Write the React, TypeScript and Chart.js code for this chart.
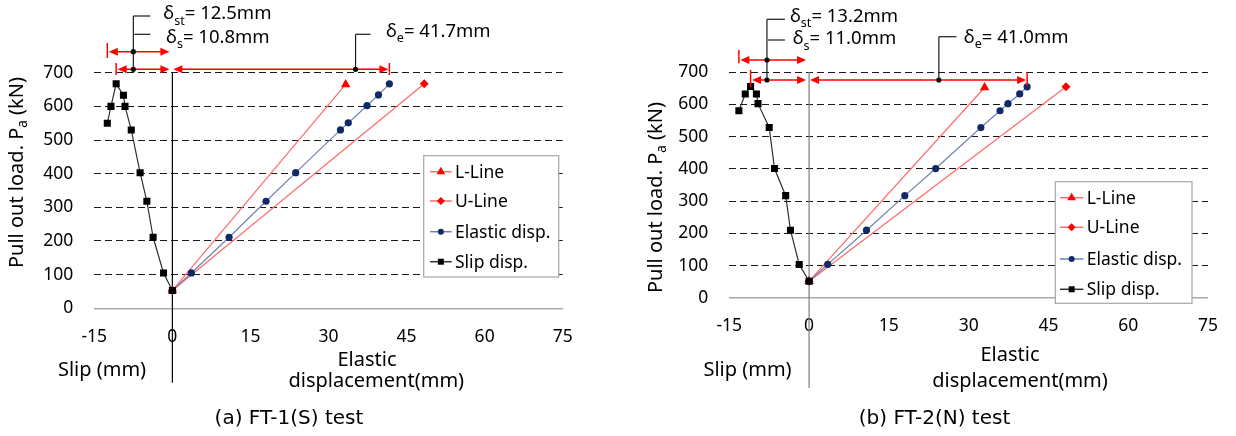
import React, { useEffect, useRef } from 'react';
import { Chart, registerables } from 'chart.js';

Chart.register(...registerables);

// ---------------- DATA ----------------
const xMin = -15;
const xMax = 75;
const xStep = 15;
const yMin = 0;
const yMax = 700;
const yStep = 100;

const seriesNames = ['L-Line', 'U-Line', 'Elastic disp.', 'Slip disp.'];
const captions = ['(a) FT-1(S) test', '(b) FT-2(N) test'];
const slipAxisLabel = 'Slip (mm)';
const elasticAxisLabel = ['Elastic', 'displacement(mm)'];

// FT-1(S)
const ft1SlipX = [0, -1.7, -3.7, -4.9, -6.2, -7.9, -9.1, -9.4, -10.8, -11.8, -12.5];
const ft1SlipLoad = [53, 105, 211, 318, 403, 530, 600, 633, 667, 600, 550];
const ft1ElasticX = [0, 3.65, 10.9, 18.0, 23.7, 32.3, 33.8, 37.4, 39.6, 41.7];
const ft1ElasticLoad = [53, 105, 211, 318, 403, 530, 551, 602, 634, 667];
const ft1LLineX = [0, 33.3];
const ft1LLineLoad = [53, 665];
const ft1ULineX = [0, 48.4];
const ft1ULineLoad = [53, 667];
const ft1Deltas = [12.5, 10.8, 41.7]; // δst, δs, δe

// FT-2(N)
const ft2SlipX = [0, -1.85, -3.5, -4.4, -6.5, -7.5, -9.6, -9.9, -11.0, -12.0, -13.2];
const ft2SlipLoad = [52, 104, 210, 317, 401, 528, 602, 632, 655, 632, 580];
const ft2ElasticX = [0, 3.5, 10.8, 18.0, 23.8, 32.3, 35.9, 37.4, 39.6, 41.0];
const ft2ElasticLoad = [52, 104, 210, 317, 401, 528, 580, 602, 632, 654];
const ft2LLineX = [0, 33.0];
const ft2LLineLoad = [52, 652];
const ft2ULineX = [0, 48.3];
const ft2ULineLoad = [52, 654];
const ft2Deltas = [13.2, 11.0, 41.0];

// ---------------- STYLE / LAYOUT ----------------
const FONT = '"Noto Sans", "Open Sans", sans-serif';
const RED = '#ff0000';
const RED_LINE = '#ff6a6a';
const NAVY = '#0f2a66';
const NAVY_LINE = '#6f82b0';
const BLACK = '#000000';

const seriesStyle = [
  { line: RED_LINE, point: RED, pointStyle: 'triangle', r: 5.5, legR: 5 },
  { line: RED_LINE, point: RED, pointStyle: 'rectRot', r: 4.5, legR: 4 },
  { line: NAVY_LINE, point: NAVY, pointStyle: 'circle', r: 3.6, legR: 3 },
  { line: '#303030', point: BLACK, pointStyle: 'rect', r: 5, legR: 4 },
];

const layouts = [
  {
    left: 0,
    padTop: 72.7,
    padRight: 55.3,
    yWidth: 94.3,
    xHeight: 127.7,
    yTickPad: 21,
    xTickPad: 18,
    yTitle: [17.5, 172.5],
    slipLabel: [102, 370],
    elasticLabel: [[367, 360.7], [376.3, 381.7]],
    caption: [289, 419],
    dividerBottom: 382.7,
    dividerColor: '#000000',
    legend: { x: 423.7, y: 155.7, w: 135, h: 121.3, rows: [171.7, 201, 231.7, 261.7], sx0: 430, sx1: 451.7, tx: 455 },
    arrows: [
      { y: 51.7, barTop: 43, barBot: 58 },
      { y: 69.3, barTop: 63, barBot: 75 },
      { y: 69.3, barTop: 63, barBot: 75 },
    ],
    leaderFrac: 0.6,
    leader: { top: 16, h1: 16, h2: 34.3, hLen: 17, t1: [30, 19.3], t2: [32.7, 42.7] },
    leaderEValue: 35.2,
    leaderE: { y: 34.3, hLen: 15, t: [30.4, 36.7] },
  },
  {
    left: 618,
    padTop: 72,
    padRight: 21,
    yWidth: 111.3,
    xHeight: 138,
    yTickPad: 21,
    xTickPad: 18,
    yTitle: [37.8, 197.5],
    slipLabel: [129.5, 370],
    elasticLabel: [[392, 355], [402, 381.7]],
    caption: [316.5, 419],
    dividerBottom: 388,
    dividerColor: '#7f7f7f',
    legend: { x: 437.3, y: 181.7, w: 136.7, h: 121.6, rows: [197.7, 227.3, 259, 289.3], sx0: 442, sx1: 465.3, tx: 468.7 },
    arrows: [
      { y: 60, barTop: 50, barBot: 63.3 },
      { y: 80, barTop: 70, barBot: 87 },
      { y: 80, barTop: 72, barBot: 86 },
    ],
    leaderFrac: 0.6,
    leader: { top: 19.3, h1: 19.3, h2: 40, hLen: 18, t1: [23, 21.7], t2: [25.7, 44.3] },
    leaderEValue: 24.4,
    leaderE: { y: 36.7, hLen: 17.6, t: [25, 42.7] },
  },
];

const panels = [
  {
    slipX: ft1SlipX, slipY: ft1SlipLoad, elX: ft1ElasticX, elY: ft1ElasticLoad,
    lX: ft1LLineX, lY: ft1LLineLoad, uX: ft1ULineX, uY: ft1ULineLoad, deltas: ft1Deltas, caption: captions[0],
  },
  {
    slipX: ft2SlipX, slipY: ft2SlipLoad, elX: ft2ElasticX, elY: ft2ElasticLoad,
    lX: ft2LLineX, lY: ft2LLineLoad, uX: ft2ULineX, uY: ft2ULineLoad, deltas: ft2Deltas, caption: captions[1],
  },
];

const pts = (xs: number[], ys: number[]) => xs.map((x, i) => ({ x, y: ys[i] }));

function drawMarker(ctx: CanvasRenderingContext2D, style: string, x: number, y: number, r: number, color: string) {
  ctx.save();
  ctx.fillStyle = color;
  ctx.beginPath();
  if (style === 'triangle') {
    ctx.moveTo(x, y - r);
    ctx.lineTo(x + r * 0.866, y + r * 0.5);
    ctx.lineTo(x - r * 0.866, y + r * 0.5);
    ctx.closePath();
  } else if (style === 'rectRot') {
    ctx.moveTo(x, y - r);
    ctx.lineTo(x + r, y);
    ctx.lineTo(x, y + r);
    ctx.lineTo(x - r, y);
    ctx.closePath();
  } else if (style === 'circle') {
    ctx.arc(x, y, r, 0, Math.PI * 2);
  } else {
    const s = r * 0.75;
    ctx.rect(x - s, y - s, 2 * s, 2 * s);
  }
  ctx.fill();
  ctx.restore();
}

// parts: [text, isSubscript]
function richWidth(ctx: CanvasRenderingContext2D, parts: [string, boolean][], size: number) {
  let w = 0;
  for (const [t, sub] of parts) {
    ctx.font = `${sub ? size * 0.68 : size}px ${FONT}`;
    w += ctx.measureText(t).width;
  }
  return w;
}
function drawRich(ctx: CanvasRenderingContext2D, parts: [string, boolean][], x: number, y: number, size: number) {
  let cx = x;
  for (const [t, sub] of parts) {
    ctx.font = `${sub ? size * 0.68 : size}px ${FONT}`;
    ctx.fillText(t, cx, sub ? y + size * 0.3 : y);
    cx += ctx.measureText(t).width;
  }
}

function arrowHead(ctx: CanvasRenderingContext2D, tipX: number, y: number, dir: number) {
  ctx.beginPath();
  ctx.moveTo(tipX, y);
  ctx.lineTo(tipX - dir * 9, y - 4);
  ctx.lineTo(tipX - dir * 9, y + 4);
  ctx.closePath();
  ctx.fill();
}

function seg(ctx: CanvasRenderingContext2D, x1: number, y1: number, x2: number, y2: number) {
  ctx.beginPath();
  ctx.moveTo(x1, y1);
  ctx.lineTo(x2, y2);
  ctx.stroke();
}

function makePlugin(P: any, L: any) {
  return {
    id: 'decor',
    beforeDatasetsDraw(chart: any) {
      const ctx = chart.ctx;
      const xs = chart.scales.x;
      const ca = chart.chartArea;
      const x0 = xs.getPixelForValue(0);
      ctx.save();
      ctx.strokeStyle = L.dividerColor;
      ctx.lineWidth = 1.2;
      seg(ctx, x0, ca.top, x0, L.dividerBottom);
      ctx.restore();
    },
    afterDraw(chart: any) {
      const ctx = chart.ctx as CanvasRenderingContext2D;
      const xs = chart.scales.x;
      const px = (v: number) => xs.getPixelForValue(v);
      const [dst, ds, de] = P.deltas;
      ctx.save();
      ctx.fillStyle = BLACK;
      ctx.textBaseline = 'middle';

      // y-axis title (rotated, with subscript)
      const ySize = 20;
      const yParts: [string, boolean][] = [['Pull out load. P', false], ['a', true], [' (kN)', false]];
      ctx.save();
      ctx.translate(L.yTitle[0], L.yTitle[1]);
      ctx.rotate(-Math.PI / 2);
      const yw = richWidth(ctx, yParts, ySize);
      ctx.textAlign = 'left';
      drawRich(ctx, yParts, -yw / 2, 0, ySize);
      ctx.restore();

      // axis labels
      ctx.textAlign = 'center';
      ctx.font = `20px ${FONT}`;
      ctx.fillText(slipAxisLabel, L.slipLabel[0], L.slipLabel[1]);
      ctx.fillText(elasticAxisLabel[0], L.elasticLabel[0][0], L.elasticLabel[0][1]);
      ctx.fillText(elasticAxisLabel[1], L.elasticLabel[1][0], L.elasticLabel[1][1]);

      // caption
      ctx.font = `20px "DejaVu Sans", sans-serif`;
      ctx.fillText(P.caption, L.caption[0], L.caption[1]);

      // legend
      const lg = L.legend;
      ctx.fillStyle = '#ffffff';
      ctx.fillRect(lg.x, lg.y, lg.w, lg.h);
      ctx.strokeStyle = '#a6a6a6';
      ctx.lineWidth = 1.2;
      ctx.strokeRect(lg.x, lg.y, lg.w, lg.h);
      ctx.textAlign = 'left';
      ctx.font = `17.5px ${FONT}`;
      seriesNames.forEach((name, i) => {
        const st = seriesStyle[i];
        const y = lg.rows[i];
        ctx.strokeStyle = st.line;
        ctx.lineWidth = 1.5;
        seg(ctx, lg.sx0, y, lg.sx1, y);
        drawMarker(ctx, st.pointStyle, (lg.sx0 + lg.sx1) / 2, y, st.legR, st.point);
        ctx.fillStyle = BLACK;
        ctx.fillText(name, lg.tx, y + 1);
      });

      // dimension arrows
      const spans = [
        [-dst, 0, 'from'],
        [-ds, 0, 'from'],
        [0, de, 'to'],
      ];
      ctx.strokeStyle = RED;
      ctx.fillStyle = RED;
      ctx.lineWidth = 1.5;
      spans.forEach((s: any, i) => {
        const a = L.arrows[i];
        const xa = px(s[0]);
        const xb = px(s[1]);
        const barX = s[2] === 'from' ? xa : xb;
        seg(ctx, barX, a.barTop, barX, a.barBot);
        let lt: number, rt: number;
        if (s[2] === 'from') {
          lt = xa + 1.5;
          rt = xb - 3;
        } else {
          lt = xa + 1;
          rt = xb - 1;
        }
        seg(ctx, lt + 4, a.y, rt - 4, a.y);
        arrowHead(ctx, lt, a.y, -1);
        arrowHead(ctx, rt, a.y, 1);
      });

      // leaders for δst / δs
      const ld = L.leader;
      const lx = px(-L.leaderFrac * dst);
      ctx.strokeStyle = '#1a1a1a';
      ctx.fillStyle = '#000';
      ctx.lineWidth = 1.2;
      seg(ctx, lx, ld.top, lx, L.arrows[1].y);
      seg(ctx, lx, ld.h1, lx + ld.hLen, ld.h1);
      seg(ctx, lx + 1, ld.h2, lx + ld.hLen, ld.h2);
      [L.arrows[0].y, L.arrows[1].y].forEach((yy: number) => {
        ctx.beginPath();
        ctx.arc(lx, yy, 2.6, 0, Math.PI * 2);
        ctx.fill();
      });
      ctx.textBaseline = 'alphabetic';
      ctx.textAlign = 'left';
      const tSize = 18.5;
      drawRich(ctx, [['δ', false], ['st', true], [`= ${dst.toFixed(1)}mm`, false]], lx + ld.t1[0], ld.t1[1], tSize);
      drawRich(ctx, [['δ', false], ['s', true], [`= ${ds.toFixed(1)}mm`, false]], lx + ld.t2[0], ld.t2[1], tSize);

      // leader for δe
      const le = L.leaderE;
      const ex = px(L.leaderEValue);
      seg(ctx, ex, L.arrows[2].y, ex, le.y);
      seg(ctx, ex, le.y, ex + le.hLen, le.y);
      ctx.beginPath();
      ctx.arc(ex, L.arrows[2].y, 2.6, 0, Math.PI * 2);
      ctx.fill();
      drawRich(ctx, [['δ', false], ['e', true], [`= ${de.toFixed(1)}mm`, false]], ex + le.t[0], le.t[1], tSize);

      ctx.restore();
    },
  };
}

function Panel({ idx }: { idx: number }) {
  const ref = useRef<HTMLCanvasElement | null>(null);
  const P = panels[idx];
  const L = layouts[idx];
  useEffect(() => {
    if (!ref.current) return;
    const mk = (label: string, data: any[], i: number, order: number) => ({
      label,
      data,
      showLine: true,
      borderColor: seriesStyle[i].line,
      borderWidth: 1.2,
      backgroundColor: seriesStyle[i].point,
      pointBackgroundColor: seriesStyle[i].point,
      pointBorderColor: seriesStyle[i].point,
      pointBorderWidth: 0,
      pointStyle: seriesStyle[i].pointStyle,
      pointRadius: seriesStyle[i].r,
      tension: 0,
      order,
    });
    const chart = new Chart(ref.current, {
      type: 'scatter',
      data: {
        datasets: [
          mk(seriesNames[3], pts(P.slipX, P.slipY), 3, 0),
          mk(seriesNames[2], pts(P.elX, P.elY), 2, 1),
          mk(seriesNames[0], pts(P.lX, P.lY), 0, 2),
          mk(seriesNames[1], pts(P.uX, P.uY), 1, 3),
        ],
      },
      options: {
        responsive: false,
        animation: false,
        devicePixelRatio: 1,
        layout: { padding: { top: L.padTop, right: L.padRight, left: 0, bottom: 0 } },
        plugins: {
          legend: { display: false },
          tooltip: { enabled: false },
          title: { display: false },
        },
        scales: {
          x: {
            type: 'linear',
            min: xMin,
            max: xMax,
            ticks: {
              stepSize: xStep,
              color: '#000',
              padding: L.xTickPad,
              font: { family: FONT, size: 17.5 },
              maxRotation: 0,
            },
            grid: { display: false, drawTicks: false },
            border: { display: true, color: '#a9a9a9', width: 1.6 },
            afterFit: (s: any) => {
              s.height = L.xHeight;
            },
          },
          y: {
            type: 'linear',
            min: yMin,
            max: yMax,
            ticks: {
              stepSize: yStep,
              color: '#000',
              padding: L.yTickPad,
              font: { family: FONT, size: 17.5 },
            },
            grid: {
              drawTicks: false,
              color: (c: any) => (c.tick && c.tick.value === 0 ? 'rgba(0,0,0,0)' : '#1a1a1a'),
              lineWidth: 1,
            },
            border: { display: false, dash: [7, 4] },
            afterFit: (s: any) => {
              s.width = L.yWidth;
            },
          },
        },
      },
      plugins: [makePlugin(P, L)],
    } as any);
    return () => chart.destroy();
  }, []);
  return (
    <canvas
      ref={ref}
      width={618}
      height={436}
      style={{ position: 'absolute', left: L.left, top: 0, width: 618, height: 436 }}
    />
  );
}

export default function App() {
  return (
    <div style={{ position: 'absolute', left: 0, top: 0, width: 1236, height: 436, background: '#fff', overflow: 'hidden' }}>
      <Panel idx={0} />
      <Panel idx={1} />
    </div>
  );
}
